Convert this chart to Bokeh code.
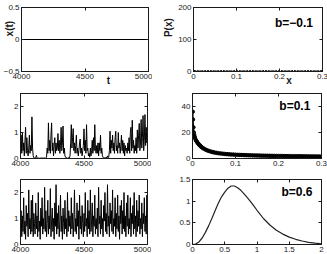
import math
from bokeh.plotting import figure
from bokeh.models import Range1d, FixedTicker, LinearAxis, Label
from bokeh.layouts import column, row
from bokeh.embed import file_html
from bokeh.resources import INLINE

# ---------------- data ----------------
t_ticks = [4000, 4500, 5000]
t_labels = ["4000", "4500", "5000"]
x1_ticks = [-0.5, 0, 0.5]
x1_labels = ["\u22120.5", "0", "0.5"]
xt_ticks = [0, 1, 2]
xt_labels = ["0", "1", "2"]
px_ticks = [0, 0.1, 0.2, 0.3]
px_labels = ["0", "0.1", "0.2", "0.3"]
p2_yticks = [0, 100, 200]
p2_ylabels = ["0", "100", "200"]
p4_yticks = [0, 20, 40]
p4_ylabels = ["0", "20", "40"]
p6_xticks = [0, 0.5, 1, 1.5, 2]
p6_xlabels = ["0", "0.5", "1", "1.5", "2"]
p6_yticks = [0, 0.5, 1, 1.5]
p6_ylabels = ["0", "0.5", "1", "1.5"]

# top-left: x(t) for b=-0.1
t_flat = [4000, 5000]
x_flat = [0, 0]

# time axis for the noisy series
t_series = list(range(4000, 5001, 5))

# middle-left: x(t) for b=0.1 (intermittent bursts)
x_b01 = [
    0.4, 0.9, 0.2, 1.0, 0.3, 0.6, 0.1, 0.7, 1.2, 0.2, 0.8, 0.3, 0.1, 0.4, 0.9, 0.2, 0.5, 0.3, 1.6, 0.4,
    0.1, 0.03, 0.02, 0.01, 0.02, 0.12, 0.03, 0.01, 0.02, 0.01, 0.01, 0.02, 0.01, 0.02, 0.01, 0.02, 0.01, 0.03, 0.02, 0.01,
    0.02, 0.05, 0.4, 0.2, 1.37, 0.3, 0.7, 0.2, 0.9, 1.37, 0.3, 0.6, 0.1, 0.5, 0.8, 0.2, 0.6, 0.3, 0.4, 0.96,
    0.3, 0.7, 0.2, 0.5, 1.2, 0.3, 0.6, 1.25, 0.2, 0.4, 0.1, 0.05, 0.02, 0.03, 0.01, 0.02, 0.04, 0.02, 0.1, 0.6,
    1.3, 0.4, 0.8, 1.15, 0.3, 0.6, 0.2, 0.5, 0.9, 0.2, 0.4, 0.1, 0.3, 0.6, 0.75, 0.2, 0.4, 0.1, 0.3, 0.5,
    1.14, 0.3, 0.7, 0.2, 1.3, 0.3, 0.4, 0.1, 0.2, 0.05, 0.4, 0.1, 0.3, 0.7, 0.2, 0.8, 0.3, 1.3, 0.4, 0.2,
    0.5, 0.2, 0.6, 0.1, 0.6, 0.3, 0.9, 0.2, 0.4, 0.1, 0.05, 0.02, 0.03, 0.01, 0.02, 0.05, 0.02, 0.1, 0.03, 0.05,
    0.3, 1.05, 0.2, 0.7, 0.4, 0.9, 0.3, 0.6, 0.2, 0.8, 1.05, 0.3, 0.5, 0.2, 1.0, 0.4, 0.6, 0.2, 0.5, 0.9,
    0.3, 0.7, 0.2, 0.6, 0.1, 0.5, 0.3, 0.4, 0.2, 0.6, 0.3, 0.8, 0.2, 1.0, 1.2, 0.3, 1.47, 0.4, 0.7, 0.2,
    0.5, 0.3, 0.8, 0.2, 1.1, 0.4, 0.9, 1.35, 0.3, 0.6, 1.5, 0.4, 0.8, 1.65, 0.3, 0.7, 1.69, 0.5, 1.2, 0.6,
    1.0,
]

# bottom-left: x(t) for b=0.6 (persistent noise)
x_b06 = [
    0.6, 1.3, 0.3, 1.1, 0.5, 1.8, 0.4, 0.9, 0.2, 1.5, 0.7, 1.2, 0.3, 2.1, 0.6, 1.0, 0.4, 1.7, 0.5, 1.9,
    0.3, 1.2, 0.8, 0.4, 1.6, 0.6, 1.1, 0.3, 2.0, 0.5, 0.9, 0.2, 1.4, 0.7, 1.8, 0.4, 1.0, 0.6, 2.2, 0.5,
    1.3, 0.3, 0.8, 1.7, 0.4, 1.1, 0.6, 2.15, 0.3, 0.9, 1.4, 0.5, 1.0, 0.2, 1.6, 0.7, 2.3, 0.4, 1.2, 0.6,
    1.5, 0.3, 0.9, 1.9, 0.5, 1.1, 0.2, 1.4, 0.8, 0.4, 1.7, 0.6, 1.0, 0.3, 2.0, 0.5, 1.3, 0.7, 1.1, 0.4,
    1.8, 0.6, 1.2, 0.3, 0.9, 2.1, 0.5, 1.0, 0.4, 1.6, 0.7, 1.3, 0.2, 1.9, 0.6, 1.1, 0.4, 1.5, 0.8, 0.3,
    1.2, 0.5, 2.0, 0.7, 1.0, 0.3, 1.7, 0.6, 1.3, 0.4, 2.1, 0.5, 0.9, 1.6, 0.3, 1.1, 0.7, 1.9, 0.4, 1.0,
    0.6, 1.4, 0.3, 2.2, 0.8, 1.1, 0.4, 1.7, 0.6, 1.0, 0.3, 1.5, 0.9, 2.0, 0.5, 1.2, 0.4, 2.3, 0.7, 1.1,
    0.3, 1.6, 0.8, 1.3, 0.5, 2.1, 0.4, 1.0, 0.7, 1.8, 0.3, 1.2, 0.6, 1.9, 0.5, 1.1, 0.2, 1.5, 0.8, 1.7,
    0.4, 1.3, 0.6, 2.0, 0.5, 1.1, 0.3, 1.6, 0.7, 1.9, 0.4, 1.0, 0.6, 1.8, 0.3, 1.2, 0.8, 1.5, 0.4, 2.0,
    0.6, 1.1, 0.3, 1.7, 0.5, 1.3, 0.7, 1.9, 0.4, 1.0, 0.6, 1.6, 0.3, 1.2, 0.8, 1.8, 0.5, 1.1, 0.4, 1.9,
    0.7,
]

# top-right: P(x) for b=-0.1 (all zero)
x_bins_a = [0.0, 0.0075, 0.015, 0.0225, 0.03, 0.0375, 0.045, 0.0525, 0.06, 0.0675,
            0.075, 0.0825, 0.09, 0.0975, 0.105, 0.1125, 0.12, 0.1275, 0.135, 0.1425,
            0.15, 0.1575, 0.165, 0.1725, 0.18, 0.1875, 0.195, 0.2025, 0.21, 0.2175,
            0.225, 0.2325, 0.24, 0.2475, 0.255, 0.2625, 0.27, 0.2775, 0.285, 0.2925, 0.3]
p_a = [0] * len(x_bins_a)

# middle-right: P(x) for b=0.1
x_bins_b = [0.0005, 0.001, 0.002, 0.003, 0.004, 0.005, 0.006, 0.008, 0.010, 0.012,
            0.014, 0.016, 0.018, 0.020, 0.023, 0.026, 0.030, 0.034, 0.038, 0.042,
            0.046, 0.050, 0.055, 0.060, 0.065, 0.070, 0.075, 0.080, 0.085, 0.090,
            0.095, 0.100, 0.105, 0.110, 0.115, 0.120, 0.125, 0.130, 0.135, 0.140,
            0.145, 0.150, 0.155, 0.160, 0.165, 0.170, 0.175, 0.180, 0.185, 0.190,
            0.195, 0.200, 0.205, 0.210, 0.215, 0.220, 0.225, 0.230, 0.235, 0.240,
            0.245, 0.250, 0.255, 0.260, 0.265, 0.270, 0.275, 0.280, 0.285, 0.290,
            0.295, 0.300]
p_b = [36, 30, 24, 20, 18, 16.5, 15.5, 14, 13, 12,
       11.2, 10.4, 9.7, 9.1, 8.3, 7.6, 6.9, 6.3, 5.8, 5.4,
       5.0, 4.7, 4.4, 4.1, 3.9, 3.7, 3.5, 3.35, 3.2, 3.1,
       3.0, 2.9, 2.8, 2.75, 2.7, 2.6, 2.55, 2.5, 2.45, 2.4,
       2.35, 2.3, 2.25, 2.2, 2.17, 2.13, 2.1, 2.06, 2.03, 2.0,
       1.97, 1.94, 1.91, 1.88, 1.86, 1.83, 1.81, 1.79, 1.77, 1.75,
       1.73, 1.71, 1.69, 1.67, 1.66, 1.64, 1.62, 1.61, 1.59, 1.58,
       1.56, 1.55]

# bottom-right: P(x) for b=0.6
x_bins_c = [0, 0.05, 0.1, 0.15, 0.2, 0.25, 0.3, 0.35, 0.4, 0.45, 0.5, 0.55, 0.6, 0.65,
            0.7, 0.75, 0.8, 0.85, 0.9, 0.95, 1.0, 1.1, 1.2, 1.3, 1.4, 1.5, 1.6, 1.7,
            1.8, 1.9, 2.0]
p_c = [0, 0.01, 0.06, 0.15, 0.28, 0.43, 0.6, 0.78, 0.95, 1.1, 1.21, 1.3, 1.35, 1.35,
       1.31, 1.25, 1.17, 1.08, 0.99, 0.89, 0.79, 0.6, 0.45, 0.33, 0.24, 0.17, 0.12, 0.08,
       0.05, 0.03, 0.015]

# ---------------- styling helpers ----------------
FONT = "Liberation Sans"
INK = "#1a1a1a"


def style_axis(ax, ticks, labels, show):
    ax.ticker = FixedTicker(ticks=ticks)
    ax.major_tick_in = 3
    ax.major_tick_out = 0
    ax.minor_tick_line_color = None
    ax.axis_line_color = INK
    ax.major_tick_line_color = INK
    ax.major_label_text_font = FONT
    if show:
        ax.major_label_overrides = {t: l for t, l in zip(ticks, labels)}
        ax.major_label_text_color = INK
        ax.major_label_text_font_size = "8px"
        ax.major_label_standoff = 2
    else:
        ax.major_label_text_color = None
        ax.major_label_text_font_size = "1px"
        ax.major_label_standoff = 0


def make(xr, yr, fw, fh, bl, br, bt, bb, xt, xl, yt, yl):
    p = figure(x_range=Range1d(*xr), y_range=Range1d(*yr),
               frame_width=fw, frame_height=fh,
               min_border_left=bl, min_border_right=br,
               min_border_top=bt, min_border_bottom=bb,
               output_backend="svg", toolbar_location=None,
               outline_line_color=INK)
    p.grid.visible = False
    top = LinearAxis()
    right = LinearAxis()
    p.add_layout(top, "above")
    p.add_layout(right, "right")
    style_axis(p.below[0], xt, xl, True)
    style_axis(p.left[0], yt, yl, True)
    style_axis(top, xt, xl, False)
    style_axis(right, yt, yl, False)
    return p


def title_axis(p, side, pos, text, standoff):
    # an extra, line-less axis whose single tick label serves as the axis title
    ax = LinearAxis(ticker=FixedTicker(ticks=[pos]))
    ax.major_label_overrides = {pos: text}
    ax.axis_line_color = None
    ax.major_tick_line_color = None
    ax.minor_tick_line_color = None
    ax.major_tick_in = 0
    ax.major_tick_out = 0
    ax.major_label_text_font = FONT
    ax.major_label_text_font_style = "bold"
    ax.major_label_text_font_size = "10px"
    ax.major_label_text_color = INK
    ax.major_label_standoff = standoff
    if side in ("left", "right"):
        ax.major_label_orientation = "parallel"
    p.add_layout(ax, side)


def tag(p, x, y, text):
    p.add_layout(Label(x=x, y=y, text=text, text_align="right",
                       text_baseline="middle", text_font=FONT, text_font_style="bold",
                       text_font_size="12px", text_color="black"))


# ---------------- panels ----------------
LW, LR = 20, 4    # left column borders
RW, RR = 41, 6    # right column borders

p1 = make((4000, 5000), (-0.5, 0.5), 127, 64, LW, LR, 7, 16, t_ticks, t_labels, x1_ticks, x1_labels)
p1.line(t_flat, x_flat, line_color="black", line_width=1)
title_axis(p1, "left", 0.17, "x(t)", -15)
title_axis(p1, "below", 4685, "t", -7)

p2 = make((0, 0.3), (0, 200), 129, 64, RW, RR, 7, 16, px_ticks, px_labels, p2_yticks, p2_ylabels)
p2.scatter(x_bins_a, p_a, marker="x", size=4, line_color="black", line_width=1)
title_axis(p2, "left", 137, "P(x)", 1)
title_axis(p2, "below", 0.222, "x", -7)
tag(p2, 0.278, 152, "b=\u22120.1")

p3 = make((4000, 5000), (0, 2.5), 127, 65, LW, LR, 5, 14, t_ticks, t_labels, xt_ticks, xt_labels)
p3.line(t_series, x_b01, line_color="black", line_width=1.0)

p4 = make((0, 0.3), (0, 50), 129, 65, RW, RR, 5, 14, px_ticks, px_labels, p4_yticks, p4_ylabels)
p4.line(x_bins_b, p_b, line_color="black", line_width=1.5)
p4.scatter(x_bins_b, p_b, marker="circle", size=3.5, fill_color="black", line_color="black")
tag(p4, 0.274, 40.6, "b=0.1")

p5 = make((4000, 5000), (0, 2.5), 127, 65, LW, LR, 7, 11, t_ticks, t_labels, xt_ticks, xt_labels)
p5.line(t_series, x_b06, line_color="black", line_width=1.0)

p6 = make((0, 2), (0, 1.5), 129, 65, RW, RR, 7, 11, p6_xticks, p6_xlabels, p6_yticks, p6_ylabels)
p6.line(x_bins_c, p_c, line_color="#222", line_width=1.2)
tag(p6, 1.86, 1.22, "b=0.6")

layout = column(row(p1, p2), row(p3, p4), row(p5, p6))

open("out.html", "w").write(file_html(layout, INLINE))
